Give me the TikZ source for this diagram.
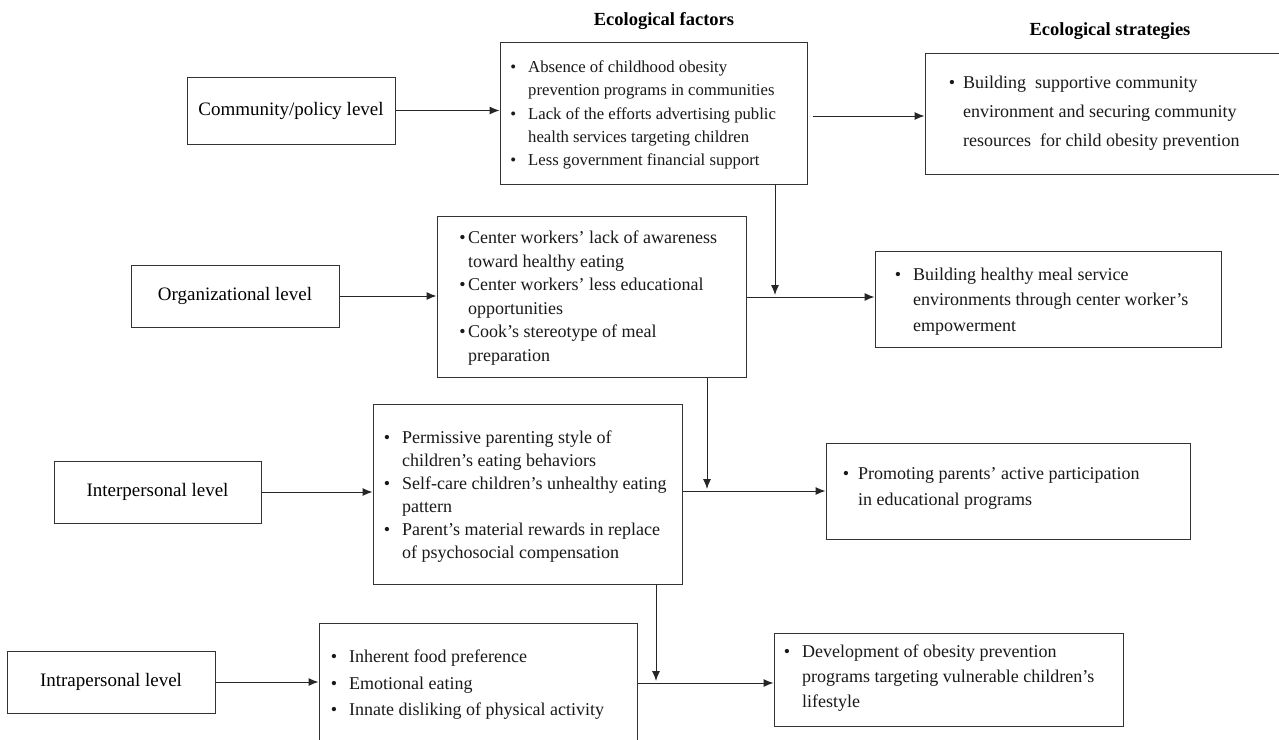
\documentclass[tikz,border=0pt]{standalone}
\usepackage{fontspec}
\setmainfont{Liberation Serif}
\usetikzlibrary{arrows.meta}
\tikzset{
  box/.style={draw=black!80, line width=1pt, inner sep=0pt},
  lbl/.style={box, font=\fontsize{19}{23}\selectfont},
  txt/.style={anchor=north west, inner sep=0pt, align=left, text=black!90},
  arr/.style={draw=black!85, line width=1pt, -{Latex[length=10pt,width=8pt]}},
  head/.style={font=\fontsize{18.5}{22}\selectfont\bfseries, anchor=base, inner sep=0pt},
}
\newcommand\bl[1]{\llap{\textbullet\hspace{#1pt}}}
\begin{document}
\begin{tikzpicture}[x=1pt,y=-1pt]
\fill[white] (0,0) rectangle (1279,739);
\useasboundingbox (0,0) rectangle (1279,739);

% headings
\node[head] (h1) at (664,25) {Ecological factors};
\node[head] (h2) at (1110,35) {Ecological strategies};

% level boxes
\node[lbl, minimum width=208pt, minimum height=67pt] (comm)  at (291,110.5) {Community/policy level};
\node[lbl, minimum width=208pt, minimum height=62pt] (org)   at (235,296)   {Organizational level};
\node[lbl, minimum width=207pt, minimum height=62pt] (inter) at (157.5,492) {Interpersonal level};
\node[lbl, minimum width=208pt, minimum height=62pt] (intra) at (111,682)   {Intrapersonal level};

% factor boxes
\node[box, minimum width=307pt, minimum height=142pt] (f1) at (653.5,113) {};
\node[box, minimum width=309pt, minimum height=161pt] (f2) at (591.5,296.5) {};
\node[box, minimum width=309pt, minimum height=180pt] (f3) at (527.5,494) {};
\node[box, minimum width=318pt, minimum height=125pt] (f4) at (478,685.5) {};

% strategy boxes
\node[box, minimum width=365pt, minimum height=121pt] (s1) at (1107.5,113.5) {};
\node[box, minimum width=346pt, minimum height=96pt]  (s2) at (1048,299) {};
\node[box, minimum width=364pt, minimum height=96pt]  (s3) at (1008,491) {};
\node[box, minimum width=349pt, minimum height=93pt]  (s4) at (948.5,679.5) {};

% factor texts
\node[txt, font=\fontsize{16.7}{23.3}\selectfont] (f1t) at (528,60.6)
 {\bl{12}Absence of childhood obesity\\prevention programs in communities\\\bl{12}Lack of the efforts advertising public\\health services targeting children\\\bl{12}Less government financial support};
\node[txt, font=\fontsize{18}{23.6}\selectfont] (f2t) at (468,230.7)
 {\bl{2.5}Center workers’ lack of awareness\\toward healthy eating\\\bl{2.5}Center workers’ less educational\\opportunities\\\bl{2.5}Cook’s stereotype of meal\\preparation};
\node[txt, font=\fontsize{18}{23}\selectfont] (f3t) at (402,430.7)
 {\bl{12}Permissive parenting style of\\children’s eating behaviors\\\bl{12}Self-care children’s unhealthy eating\\pattern\\\bl{12}Parent’s material rewards in replace\\of psychosocial compensation};
\node[txt, font=\fontsize{18}{26.5}\selectfont] (f4t) at (349,649.7)
 {\bl{12}Inherent food preference\\\bl{12}Emotional eating\\\bl{12}Innate disliking of physical activity};

% strategy texts
\node[txt, font=\fontsize{18}{29}\selectfont] (s1t) at (963,75.7)
 {\bl{8}Building~ supportive community\\environment and securing community\\resources~ for child obesity prevention};
\node[txt, font=\fontsize{18}{25.5}\selectfont] (s2t) at (913,267.7)
 {\bl{12}Building healthy meal service\\environments through center worker’s\\empowerment};
\node[txt, font=\fontsize{18}{26}\selectfont] (s3t) at (858,467.7)
 {\bl{9}Promoting parents’ active participation\\in educational programs};
\node[txt, font=\fontsize{18}{25}\selectfont] (s4t) at (802,644.7)
 {\bl{12}Development of obesity prevention\\programs targeting vulnerable children’s\\lifestyle};

% junctions
\coordinate (j1) at (775,297);
\coordinate (j2) at (707,491);
\coordinate (j3) at (656,683);
\coordinate (f1o) at ([xshift=5pt,yshift=-3pt]f1.east);

% connectors
\draw[arr] (comm.east) -- (comm.east -| f1.west);
\draw[arr] (f1o) -- (f1o -| s1.west);
\draw[arr] (f1.south -| j1) -- ([yshift=2pt]j1);
\draw[arr] (org.east) -- (org.east -| f2.west);
\draw[arr] (f2.east |- j1) -- (s2.west |- j1);
\draw[arr] (f2.south -| j2) -- ([yshift=2pt]j2);
\draw[arr] (inter.east) -- (inter.east -| f3.west);
\draw[arr] (f3.east |- j2) -- (s3.west |- j2);
\draw[arr] (f3.south -| j3) -- ([yshift=2pt]j3);
\draw[arr] (intra.east) -- (intra.east -| f4.west);
\draw[arr] (f4.east |- j3) -- (s4.west |- j3);
\end{tikzpicture}
\end{document}
